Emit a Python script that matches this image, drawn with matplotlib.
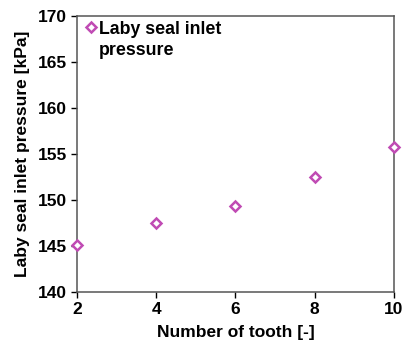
import matplotlib
matplotlib.use('Agg')
import matplotlib.pyplot as plt

# Data
teeth = [2, 4, 6, 8, 10]
inlet_pressure = [145.1, 147.5, 149.4, 152.5, 155.8]

x_ticks = [2, 4, 6, 8, 10]
y_ticks = [140, 145, 150, 155, 160, 165, 170]
series_label = 'Laby seal inlet\npressure'

plt.rcParams['font.family'] = ['Liberation Sans', 'DejaVu Sans']
plt.rcParams['font.weight'] = 'bold'

fig = plt.figure(figsize=(4.06, 3.49), dpi=100)
ax = fig.add_axes([77 / 406, 1 - 292 / 349, (394 - 77) / 406, (292 - 16) / 349])

marker_style = dict(linestyle='none', marker='D', markersize=5.5,
                    markerfacecolor='white', markeredgecolor='#C04BB4',
                    markeredgewidth=1.8, clip_on=False, zorder=5)

ax.plot(teeth, inlet_pressure, **marker_style)

ax.set_xlim(2, 10)
ax.set_ylim(140, 170)
ax.set_xticks(x_ticks)
ax.set_yticks(y_ticks)
ax.tick_params(direction='out', length=4, width=1, labelsize=12.5, pad=3)

for s in ax.spines.values():
    s.set_color('#555555')
    s.set_linewidth(1.1)

ax.set_xlabel('Number of tooth [-]', fontsize=12.5, fontweight='bold', labelpad=6)
ax.set_ylabel('Laby seal inlet pressure [kPa]', fontsize=12.5, fontweight='bold', labelpad=6)

# legend drawn by hand so the marker sits on the first text line
ax.plot([14 / 317], [1 - 11 / 276], transform=ax.transAxes, **marker_style)
ax.text(22 / 317, 1 - 5 / 276, series_label, transform=ax.transAxes,
        ha='left', va='top', fontsize=12.8, fontweight='bold', linespacing=1.3)

fig.savefig('out.png', dpi=100)
